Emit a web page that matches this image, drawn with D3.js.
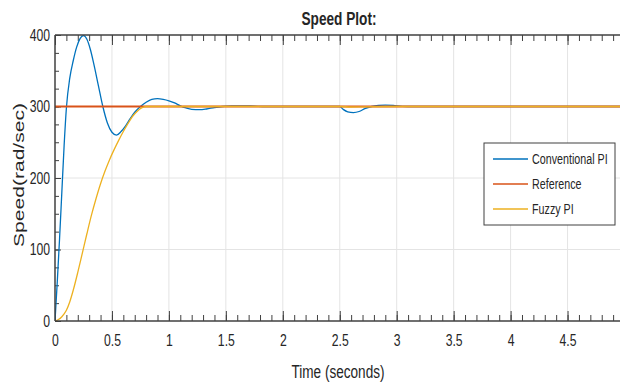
<!DOCTYPE html>
<html>
<head>
<meta charset="utf-8">
<script src="https://cdn.jsdelivr.net/npm/d3@7"></script>
<style>
  body { margin: 0; background: #fff; }
  svg text { font-family: "Liberation Sans", Arial, sans-serif; fill: #262626; }
  .tick line { stroke: #404040; }
  .sq-c, .sq-r, .sq-l { transform-box: fill-box; transform: scaleX(0.74); }
  .sq-c { transform-origin: center; }
  .sq-r { transform-origin: right center; }
  .sq-l { transform-origin: left center; }
</style>
</head>
<body>
<div id="chart"></div>
<script>
// values
const convTime  = [0, 0.02, 0.04, 0.06, 0.08, 0.10, 0.13, 0.16, 0.19, 0.22, 0.25, 0.28, 0.31, 0.34, 0.38, 0.42, 0.46, 0.50, 0.54, 0.58, 0.62, 0.66, 0.70, 0.75, 0.80, 0.85, 0.90, 0.95, 1.00, 1.05, 1.10, 1.15, 1.20, 1.27, 1.33, 1.40, 1.47, 1.55, 1.65, 1.75, 1.85, 2.0, 2.25, 2.5, 2.53, 2.57, 2.62, 2.67, 2.72, 2.78, 2.84, 2.90, 2.97, 3.05, 3.15, 3.5, 4.0, 4.5, 5.0];
const convSpeed = [0, 55, 115, 180, 245, 298, 340, 364, 383, 395, 399, 394, 380, 360, 330, 300, 277, 264, 260, 265, 273, 283, 292, 300, 306, 310, 311, 310, 308, 305, 301, 298, 296, 295.5, 296.5, 298.5, 300, 300.8, 301, 300.5, 300, 300, 300, 300, 296, 292.5, 291.5, 293, 297, 300, 301.5, 302, 301.5, 300.3, 300, 300, 300, 300, 300];

const refTime  = [0, 5];
const refSpeed = [300, 300];

const fuzzyTime  = [0, 0.03, 0.06, 0.10, 0.13, 0.16, 0.20, 0.24, 0.28, 0.32, 0.36, 0.40, 0.44, 0.48, 0.52, 0.56, 0.60, 0.64, 0.68, 0.72, 0.76, 0.80, 0.90, 1.5, 2.5, 2.6, 2.7, 3.0, 4.0, 5.0];
const fuzzySpeed = [0, 2, 6, 15, 27, 43, 68, 95, 122, 148, 171, 192, 210, 226, 240, 253, 265, 276, 286, 293, 298, 300, 300, 300, 300, 299.3, 299.6, 300, 300, 300];

const seriesNames  = ["Conventional PI", "Reference", "Fuzzy PI"];
const seriesColors = ["#0072BD", "#D95319", "#EDB120"];

const xMajor = [0, 0.5, 1, 1.5, 2, 2.5, 3, 3.5, 4, 4.5];
const xMinor = d3.range(0, 50).map(i => i / 10);
const yMajor = [0, 100, 200, 300, 400];
const yMinor = d3.range(0, 17).map(i => i * 25);

const width = 620, height = 386;
const margin = { top: 35, left: 55, bottom: 65 };
const plotRight = 624.5;

const svg = d3.select("#chart").append("svg")
  .attr("width", width)
  .attr("height", height);

const x = d3.scaleLinear().domain([0, 5]).range([margin.left, plotRight]);
const y = d3.scaleLinear().domain([0, 400]).range([height - margin.bottom, margin.top]);

svg.append("clipPath").attr("id", "plot-clip")
  .append("rect")
  .attr("x", margin.left).attr("y", margin.top - 2)
  .attr("width", plotRight - margin.left).attr("height", y(0) - margin.top + 2);

// grid
const grid = svg.append("g").attr("stroke", "#e4e4e4").attr("stroke-width", 1);
grid.selectAll("line.vx")
  .data(xMajor.slice(1))
  .enter().append("line")
    .attr("x1", d => x(d)).attr("x2", d => x(d))
    .attr("y1", y(400)).attr("y2", y(0));
grid.selectAll("line.hy")
  .data(yMajor.slice(1, -1))
  .enter().append("line")
    .attr("x1", x(0)).attr("x2", plotRight)
    .attr("y1", d => y(d)).attr("y2", d => y(d));

// minor ticks
svg.append("g")
  .attr("transform", `translate(0,${y(0)})`)
  .call(d3.axisBottom(x).tickValues(xMinor).tickSize(-6).tickFormat(""))
  .call(g => g.select(".domain").remove());
svg.append("g")
  .attr("transform", `translate(0,${y(400)})`)
  .call(d3.axisTop(x).tickValues(xMinor).tickSize(-6).tickFormat(""))
  .call(g => g.select(".domain").remove());
svg.append("g")
  .attr("transform", `translate(${x(0)},0)`)
  .call(d3.axisLeft(y).tickValues(yMinor).tickSize(-4).tickFormat(""))
  .call(g => g.select(".domain").remove());

// major ticks
svg.append("g")
  .attr("class", "x-axis")
  .attr("transform", `translate(0,${y(0)})`)
  .call(d3.axisBottom(x).tickValues(xMajor).tickSize(-10).tickPadding(13).tickFormat(d3.format("")))
  .call(g => g.select(".domain").remove())
  .call(g => g.selectAll("text").attr("class", "sq-c").attr("font-size", 16.5).attr("font-family", null));
svg.append("g")
  .attr("transform", `translate(0,${y(400)})`)
  .call(d3.axisTop(x).tickValues(xMajor).tickSize(-10).tickFormat(""))
  .call(g => g.select(".domain").remove());
svg.append("g")
  .attr("class", "y-axis")
  .attr("transform", `translate(${x(0)},0)`)
  .call(d3.axisLeft(y).tickValues(yMajor).tickSize(-6).tickPadding(5))
  .call(g => g.select(".domain").remove())
  .call(g => g.selectAll("text").attr("class", "sq-r").attr("font-size", 16.5).attr("font-family", null));

// lines
const line = d3.line()
  .x(d => x(d[0]))
  .y(d => y(d[1]))
  .curve(d3.curveMonotoneX);

const series = [
  d3.zip(convTime, convSpeed),
  d3.zip(refTime, refSpeed),
  d3.zip(fuzzyTime, fuzzySpeed)
];

svg.append("g")
  .attr("clip-path", "url(#plot-clip)")
  .selectAll("path")
  .data(series)
  .enter().append("path")
    .attr("fill", "none")
    .attr("stroke", (d, i) => seriesColors[i])
    .attr("stroke-width", (d, i) => i === 1 ? 1.8 : 1.3)
    .attr("d", line);

// axis box lines
const box = svg.append("g").attr("stroke", "#404040").attr("stroke-width", 1.5);
box.append("line").attr("x1", x(0)).attr("x2", width).attr("y1", y(0)).attr("y2", y(0));
box.append("line").attr("x1", x(0)).attr("x2", width).attr("y1", y(400)).attr("y2", y(400));
box.append("line").attr("x1", x(0)).attr("x2", x(0)).attr("y1", y(400)).attr("y2", y(0));

// titles
svg.append("text")
  .attr("x", 339).attr("y", 25)
  .attr("text-anchor", "middle")
  .attr("font-size", 18)
  .attr("font-weight", "bold")
  .attr("fill", "#000")
  .attr("textLength", 75)
  .attr("lengthAdjust", "spacingAndGlyphs")
  .text("Speed Plot:");

svg.append("text")
  .attr("x", 338).attr("y", 378)
  .attr("text-anchor", "middle")
  .attr("font-size", 18)
  .attr("textLength", 93)
  .attr("lengthAdjust", "spacingAndGlyphs")
  .text("Time (seconds)");

svg.append("text")
  .attr("transform", "translate(24,175) rotate(-90)")
  .attr("text-anchor", "middle")
  .attr("font-size", 14)
  .attr("textLength", 144)
  .attr("lengthAdjust", "spacingAndGlyphs")
  .text("Speed(rad/sec)");

// legend
const legend = svg.append("g").attr("transform", "translate(484,143)");
legend.append("rect")
  .attr("width", 131).attr("height", 82)
  .attr("fill", "#fff")
  .attr("stroke", "#404040")
  .attr("stroke-width", 1);

const item = legend.selectAll(".legend-item")
  .data(seriesNames)
  .enter().append("g")
    .attr("class", "legend-item")
    .attr("transform", (d, i) => `translate(0,${16 + i * 25})`);
item.append("line")
  .attr("x1", 9).attr("x2", 44)
  .attr("stroke", (d, i) => seriesColors[i])
  .attr("stroke-width", 1.3);
item.append("text")
  .attr("class", "sq-l")
  .attr("x", 48).attr("dy", "0.35em")
  .attr("font-size", 14.5)
  .text(d => d);
</script>
</body>
</html>
